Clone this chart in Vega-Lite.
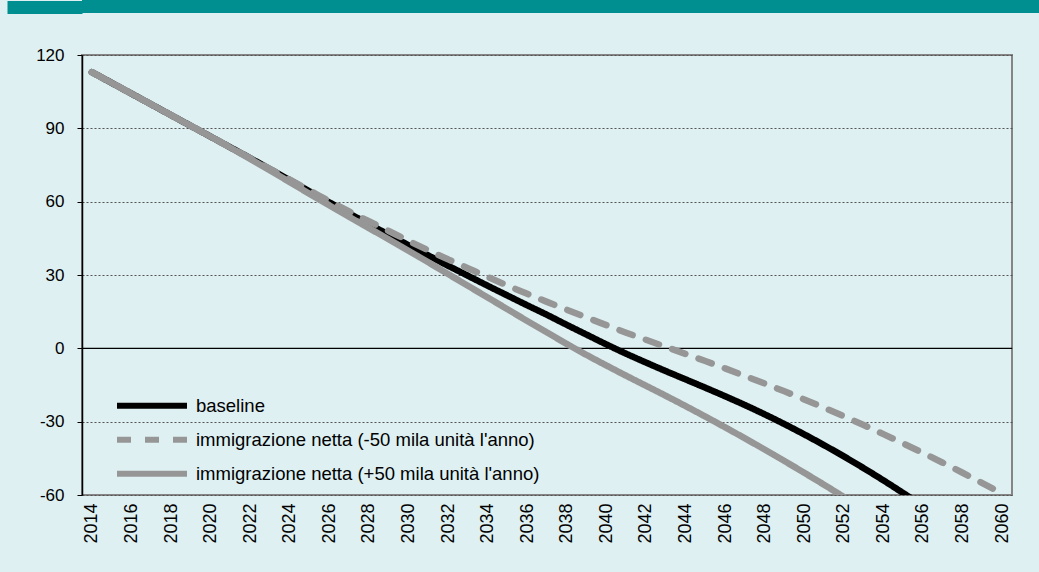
{
  "$schema": "https://vega.github.io/schema/vega-lite/v6.json",
  "background": "#def0f2",
  "padding": 0,
  "columns": 1,
  "align": "none",
  "spacing": 31,
  "config": {"font": "Liberation Sans"},
  "concat": [
    {
      "width": 958,
      "height": 13,
      "view": {"fill": "#008f91", "stroke": null},
      "data": {"values": [{"h": 0}]},
      "mark": {"type": "text"},
      "encoding": {
        "text": {"value": ""},
        "y": {"field": "h", "type": "quantitative",
          "scale": {"domain": [-1, 1]},
          "axis": {"title": null, "values": [0], "labels": false, "domain": false, "grid": false, "ticks": true,
            "tickSize": 75, "tickWidth": 13, "tickColor": "#008f91", "minExtent": 81, "maxExtent": 81}}
      }
    },
    {
      "width": 930,
      "height": 440,
      "view": {"fill": "#def0f2", "stroke": "#858585", "strokeWidth": 2},
      "data": {"values": [
        {"year": 2014, "s": "baseline", "v": 113},
        {"year": 2015, "s": "baseline", "v": 108.6},
        {"year": 2016, "s": "baseline", "v": 104.2},
        {"year": 2017, "s": "baseline", "v": 99.8},
        {"year": 2018, "s": "baseline", "v": 95.4},
        {"year": 2019, "s": "baseline", "v": 91},
        {"year": 2020, "s": "baseline", "v": 86.6},
        {"year": 2021, "s": "baseline", "v": 82.2},
        {"year": 2022, "s": "baseline", "v": 77.8},
        {"year": 2023, "s": "baseline", "v": 73.3},
        {"year": 2024, "s": "baseline", "v": 68.8},
        {"year": 2025, "s": "baseline", "v": 64.2},
        {"year": 2026, "s": "baseline", "v": 59.7},
        {"year": 2027, "s": "baseline", "v": 55.2},
        {"year": 2028, "s": "baseline", "v": 50.8},
        {"year": 2029, "s": "baseline", "v": 46.5},
        {"year": 2030, "s": "baseline", "v": 42.2},
        {"year": 2031, "s": "baseline", "v": 38},
        {"year": 2032, "s": "baseline", "v": 33.8},
        {"year": 2033, "s": "baseline", "v": 29.7},
        {"year": 2034, "s": "baseline", "v": 25.6},
        {"year": 2035, "s": "baseline", "v": 21.6},
        {"year": 2036, "s": "baseline", "v": 17.6},
        {"year": 2037, "s": "baseline", "v": 13.7},
        {"year": 2038, "s": "baseline", "v": 9.6},
        {"year": 2039, "s": "baseline", "v": 5.6},
        {"year": 2040, "s": "baseline", "v": 1.6},
        {"year": 2041, "s": "baseline", "v": -2.2},
        {"year": 2042, "s": "baseline", "v": -5.8},
        {"year": 2043, "s": "baseline", "v": -9.3},
        {"year": 2044, "s": "baseline", "v": -12.7},
        {"year": 2045, "s": "baseline", "v": -16.1},
        {"year": 2046, "s": "baseline", "v": -19.6},
        {"year": 2047, "s": "baseline", "v": -23.2},
        {"year": 2048, "s": "baseline", "v": -27},
        {"year": 2049, "s": "baseline", "v": -31},
        {"year": 2050, "s": "baseline", "v": -35.2},
        {"year": 2051, "s": "baseline", "v": -39.6},
        {"year": 2052, "s": "baseline", "v": -44.2},
        {"year": 2053, "s": "baseline", "v": -49},
        {"year": 2054, "s": "baseline", "v": -54},
        {"year": 2055, "s": "baseline", "v": -59.2},
        {"year": 2056, "s": "baseline", "v": -64.5},

        {"year": 2014, "s": "immigrazione netta (-50 mila unità l'anno)", "v": 113},
        {"year": 2015, "s": "immigrazione netta (-50 mila unità l'anno)", "v": 108.6},
        {"year": 2016, "s": "immigrazione netta (-50 mila unità l'anno)", "v": 104.2},
        {"year": 2017, "s": "immigrazione netta (-50 mila unità l'anno)", "v": 99.8},
        {"year": 2018, "s": "immigrazione netta (-50 mila unità l'anno)", "v": 95.4},
        {"year": 2019, "s": "immigrazione netta (-50 mila unità l'anno)", "v": 91},
        {"year": 2020, "s": "immigrazione netta (-50 mila unità l'anno)", "v": 86.6},
        {"year": 2021, "s": "immigrazione netta (-50 mila unità l'anno)", "v": 82.2},
        {"year": 2022, "s": "immigrazione netta (-50 mila unità l'anno)", "v": 77.8},
        {"year": 2023, "s": "immigrazione netta (-50 mila unità l'anno)", "v": 73.4},
        {"year": 2024, "s": "immigrazione netta (-50 mila unità l'anno)", "v": 69},
        {"year": 2025, "s": "immigrazione netta (-50 mila unità l'anno)", "v": 64.6},
        {"year": 2026, "s": "immigrazione netta (-50 mila unità l'anno)", "v": 60.2},
        {"year": 2027, "s": "immigrazione netta (-50 mila unità l'anno)", "v": 56},
        {"year": 2028, "s": "immigrazione netta (-50 mila unità l'anno)", "v": 52},
        {"year": 2029, "s": "immigrazione netta (-50 mila unità l'anno)", "v": 48},
        {"year": 2030, "s": "immigrazione netta (-50 mila unità l'anno)", "v": 44},
        {"year": 2031, "s": "immigrazione netta (-50 mila unità l'anno)", "v": 40.1},
        {"year": 2032, "s": "immigrazione netta (-50 mila unità l'anno)", "v": 36.4},
        {"year": 2033, "s": "immigrazione netta (-50 mila unità l'anno)", "v": 32.8},
        {"year": 2034, "s": "immigrazione netta (-50 mila unità l'anno)", "v": 29.2},
        {"year": 2035, "s": "immigrazione netta (-50 mila unità l'anno)", "v": 25.7},
        {"year": 2036, "s": "immigrazione netta (-50 mila unità l'anno)", "v": 22.3},
        {"year": 2037, "s": "immigrazione netta (-50 mila unità l'anno)", "v": 19},
        {"year": 2038, "s": "immigrazione netta (-50 mila unità l'anno)", "v": 15.8},
        {"year": 2039, "s": "immigrazione netta (-50 mila unità l'anno)", "v": 12.6},
        {"year": 2040, "s": "immigrazione netta (-50 mila unità l'anno)", "v": 9.5},
        {"year": 2041, "s": "immigrazione netta (-50 mila unità l'anno)", "v": 6.4},
        {"year": 2042, "s": "immigrazione netta (-50 mila unità l'anno)", "v": 3.5},
        {"year": 2043, "s": "immigrazione netta (-50 mila unità l'anno)", "v": 0.6},
        {"year": 2044, "s": "immigrazione netta (-50 mila unità l'anno)", "v": -2.3},
        {"year": 2045, "s": "immigrazione netta (-50 mila unità l'anno)", "v": -5.2},
        {"year": 2046, "s": "immigrazione netta (-50 mila unità l'anno)", "v": -8.2},
        {"year": 2047, "s": "immigrazione netta (-50 mila unità l'anno)", "v": -11.3},
        {"year": 2048, "s": "immigrazione netta (-50 mila unità l'anno)", "v": -14.4},
        {"year": 2049, "s": "immigrazione netta (-50 mila unità l'anno)", "v": -17.6},
        {"year": 2050, "s": "immigrazione netta (-50 mila unità l'anno)", "v": -20.9},
        {"year": 2051, "s": "immigrazione netta (-50 mila unità l'anno)", "v": -24.3},
        {"year": 2052, "s": "immigrazione netta (-50 mila unità l'anno)", "v": -27.8},
        {"year": 2053, "s": "immigrazione netta (-50 mila unità l'anno)", "v": -31.4},
        {"year": 2054, "s": "immigrazione netta (-50 mila unità l'anno)", "v": -35.1},
        {"year": 2055, "s": "immigrazione netta (-50 mila unità l'anno)", "v": -38.9},
        {"year": 2056, "s": "immigrazione netta (-50 mila unità l'anno)", "v": -42.8},
        {"year": 2057, "s": "immigrazione netta (-50 mila unità l'anno)", "v": -46.8},
        {"year": 2058, "s": "immigrazione netta (-50 mila unità l'anno)", "v": -50.9},
        {"year": 2059, "s": "immigrazione netta (-50 mila unità l'anno)", "v": -55.1},
        {"year": 2060, "s": "immigrazione netta (-50 mila unità l'anno)", "v": -59.4},

        {"year": 2014, "s": "immigrazione netta (+50 mila unità l'anno)", "v": 113},
        {"year": 2015, "s": "immigrazione netta (+50 mila unità l'anno)", "v": 108.6},
        {"year": 2016, "s": "immigrazione netta (+50 mila unità l'anno)", "v": 104.2},
        {"year": 2017, "s": "immigrazione netta (+50 mila unità l'anno)", "v": 99.8},
        {"year": 2018, "s": "immigrazione netta (+50 mila unità l'anno)", "v": 95.4},
        {"year": 2019, "s": "immigrazione netta (+50 mila unità l'anno)", "v": 91},
        {"year": 2020, "s": "immigrazione netta (+50 mila unità l'anno)", "v": 86.6},
        {"year": 2021, "s": "immigrazione netta (+50 mila unità l'anno)", "v": 82.1},
        {"year": 2022, "s": "immigrazione netta (+50 mila unità l'anno)", "v": 77.5},
        {"year": 2023, "s": "immigrazione netta (+50 mila unità l'anno)", "v": 72.8},
        {"year": 2024, "s": "immigrazione netta (+50 mila unità l'anno)", "v": 68},
        {"year": 2025, "s": "immigrazione netta (+50 mila unità l'anno)", "v": 63.2},
        {"year": 2026, "s": "immigrazione netta (+50 mila unità l'anno)", "v": 58.5},
        {"year": 2027, "s": "immigrazione netta (+50 mila unità l'anno)", "v": 53.8},
        {"year": 2028, "s": "immigrazione netta (+50 mila unità l'anno)", "v": 49.2},
        {"year": 2029, "s": "immigrazione netta (+50 mila unità l'anno)", "v": 44.6},
        {"year": 2030, "s": "immigrazione netta (+50 mila unità l'anno)", "v": 39.9},
        {"year": 2031, "s": "immigrazione netta (+50 mila unità l'anno)", "v": 35.2},
        {"year": 2032, "s": "immigrazione netta (+50 mila unità l'anno)", "v": 30.4},
        {"year": 2033, "s": "immigrazione netta (+50 mila unità l'anno)", "v": 25.6},
        {"year": 2034, "s": "immigrazione netta (+50 mila unità l'anno)", "v": 20.8},
        {"year": 2035, "s": "immigrazione netta (+50 mila unità l'anno)", "v": 16},
        {"year": 2036, "s": "immigrazione netta (+50 mila unità l'anno)", "v": 11.2},
        {"year": 2037, "s": "immigrazione netta (+50 mila unità l'anno)", "v": 6.5},
        {"year": 2038, "s": "immigrazione netta (+50 mila unità l'anno)", "v": 1.8},
        {"year": 2039, "s": "immigrazione netta (+50 mila unità l'anno)", "v": -2.7},
        {"year": 2040, "s": "immigrazione netta (+50 mila unità l'anno)", "v": -7},
        {"year": 2041, "s": "immigrazione netta (+50 mila unità l'anno)", "v": -11.2},
        {"year": 2042, "s": "immigrazione netta (+50 mila unità l'anno)", "v": -15.3},
        {"year": 2043, "s": "immigrazione netta (+50 mila unità l'anno)", "v": -19.4},
        {"year": 2044, "s": "immigrazione netta (+50 mila unità l'anno)", "v": -23.6},
        {"year": 2045, "s": "immigrazione netta (+50 mila unità l'anno)", "v": -27.9},
        {"year": 2046, "s": "immigrazione netta (+50 mila unità l'anno)", "v": -32.3},
        {"year": 2047, "s": "immigrazione netta (+50 mila unità l'anno)", "v": -36.8},
        {"year": 2048, "s": "immigrazione netta (+50 mila unità l'anno)", "v": -41.4},
        {"year": 2049, "s": "immigrazione netta (+50 mila unità l'anno)", "v": -46.1},
        {"year": 2050, "s": "immigrazione netta (+50 mila unità l'anno)", "v": -50.9},
        {"year": 2051, "s": "immigrazione netta (+50 mila unità l'anno)", "v": -55.8},
        {"year": 2052, "s": "immigrazione netta (+50 mila unità l'anno)", "v": -60.8}
      ]},
      "encoding": {
        "x": {
          "field": "year", "type": "quantitative",
          "scale": {"domain": [2013.5, 2060.5], "nice": false, "zero": false},
          "axis": {
            "title": null,
            "values": [2014, 2016, 2018, 2020, 2022, 2024, 2026, 2028, 2030, 2032, 2034, 2036, 2038, 2040, 2042, 2044, 2046, 2048, 2050, 2052, 2054, 2056, 2058, 2060],
            "format": "d", "labelAngle": 270, "grid": false, "domain": false, "ticks": false,
            "labelPadding": 8, "labelFontSize": 18, "labelColor": "#000000", "labelFont": "Liberation Sans",
            "minExtent": 78, "labelFlush": false, "labelOverlap": false
          }
        },
        "y": {
          "field": "v", "type": "quantitative",
          "scale": {"domain": [-60, 120], "nice": false, "zero": false},
          "axis": {
            "title": null,
            "values": [-60, -30, 0, 30, 60, 90, 120],
            "grid": true, "gridColor": "#555555", "gridDash": [2, 2], "gridWidth": 1,
            "domain": true, "domainColor": "#000000", "domainWidth": 1.5,
            "ticks": true, "tickSize": 5, "tickColor": "#000000", "tickWidth": 1,
            "labelPadding": 13, "labelFontSize": 17, "labelColor": "#000000", "labelFont": "Liberation Sans",
            "minExtent": 81, "maxExtent": 81, "labelFlush": false,
            "labelExpr": "datum.value < 0 ? '-' + abs(datum.value) : '' + datum.value"
          }
        }
      },
      "layer": [
        {
          "data": {"values": [{"v": 0}]},
          "mark": {"type": "rule", "color": "#000000", "strokeWidth": 1.2},
          "encoding": {"y": {"field": "v", "type": "quantitative"}, "x": null}
        },
        {
          "transform": [{"filter": "datum.s === 'baseline'"}],
          "mark": {"type": "line", "strokeWidth": 6.5, "strokeCap": "round", "strokeJoin": "round", "interpolate": "monotone", "clip": true},
          "encoding": {
            "color": {"field": "s", "type": "nominal",
              "scale": {"domain": ["baseline", "immigrazione netta (-50 mila unità l'anno)", "immigrazione netta (+50 mila unità l'anno)"], "range": ["#000000", "#969696", "#969696"]},
              "legend": {"title": null, "orient": "none", "legendX": 32, "legendY": 389, "symbolType": "stroke", "symbolSize": 4900, "symbolStrokeWidth": 6, "labelFontSize": 18.5, "labelFont": "Liberation Sans", "labelColor": "#000000", "labelOffset": 6, "labelLimit": 600, "padding": 0, "rowPadding": 0, "clipHeight": 33.5}},
            "strokeDash": {"field": "s", "type": "nominal",
              "scale": {"domain": ["baseline", "immigrazione netta (-50 mila unità l'anno)", "immigrazione netta (+50 mila unità l'anno)"], "range": [[1, 0], [14, 14], [1, 0]]},
              "legend": {"title": null, "orient": "none", "legendX": 32, "legendY": 389, "symbolType": "stroke", "symbolSize": 4900, "symbolStrokeWidth": 6, "labelFontSize": 18.5, "labelFont": "Liberation Sans", "labelColor": "#000000", "labelOffset": 6, "labelLimit": 600, "padding": 0, "rowPadding": 0, "clipHeight": 33.5}}
          }
        },
        {
          "transform": [{"filter": "indexof(datum.s, '-50') >= 0"}],
          "mark": {"type": "line", "strokeWidth": 6.5, "strokeCap": "round", "strokeJoin": "round", "interpolate": "monotone", "clip": true},
          "encoding": {
            "color": {"field": "s", "type": "nominal"},
            "strokeDash": {"field": "s", "type": "nominal"}
          }
        },
        {
          "transform": [{"filter": "indexof(datum.s, '+50') >= 0"}],
          "mark": {"type": "line", "strokeWidth": 6.5, "strokeCap": "round", "strokeJoin": "round", "interpolate": "monotone", "clip": true},
          "encoding": {
            "color": {"field": "s", "type": "nominal"},
            "strokeDash": {"field": "s", "type": "nominal"}
          }
        }
      ]
    }
  ]
}
